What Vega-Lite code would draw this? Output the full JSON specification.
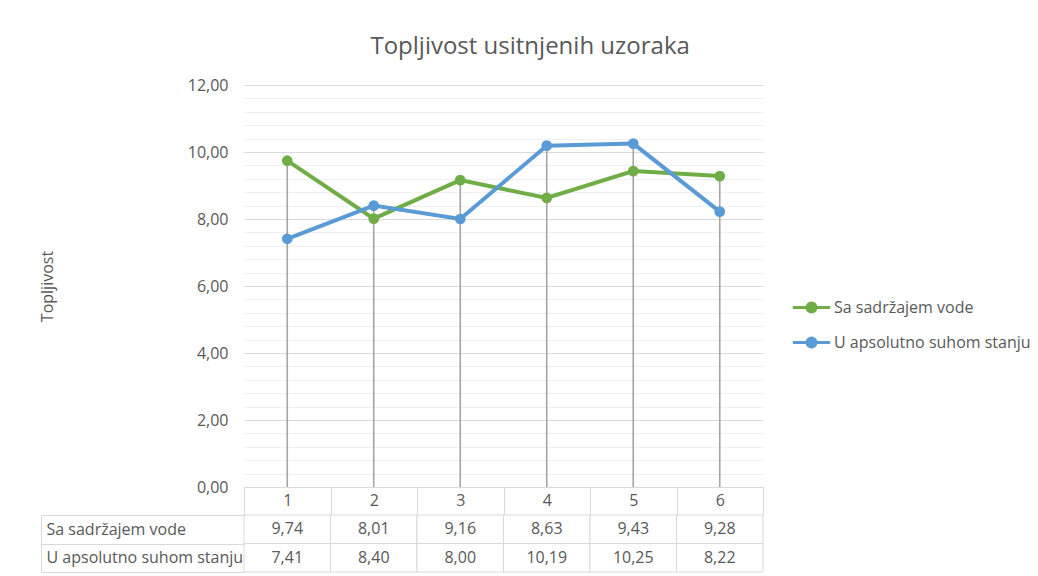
{
  "$schema": "https://vega.github.io/schema/vega-lite/v6.json",
  "padding": {"left": 39, "top": 35, "right": 5, "bottom": 0},
  "background": "white",
  "title": {
    "text": "Topljivost usitnjenih uzoraka",
    "fontSize": 24,
    "fontWeight": "normal",
    "color": "#595959",
    "font": "Open Sans",
    "anchor": "middle",
    "offset": 18,
    "dx": -5
  },
  "datasets": {
    "d": [
      {"x": 1, "series": "Sa sadržajem vode", "value": 9.74},
      {"x": 2, "series": "Sa sadržajem vode", "value": 8.01},
      {"x": 3, "series": "Sa sadržajem vode", "value": 9.16},
      {"x": 4, "series": "Sa sadržajem vode", "value": 8.63},
      {"x": 5, "series": "Sa sadržajem vode", "value": 9.43},
      {"x": 6, "series": "Sa sadržajem vode", "value": 9.28},
      {"x": 1, "series": "U apsolutno suhom stanju", "value": 7.41},
      {"x": 2, "series": "U apsolutno suhom stanju", "value": 8.40},
      {"x": 3, "series": "U apsolutno suhom stanju", "value": 8.00},
      {"x": 4, "series": "U apsolutno suhom stanju", "value": 10.19},
      {"x": 5, "series": "U apsolutno suhom stanju", "value": 10.25},
      {"x": 6, "series": "U apsolutno suhom stanju", "value": 8.22}
    ]
  },
  "bounds": "flush",
  "spacing": 28,
  "vconcat": [
    {
      "width": 519,
      "height": 402,
      "data": {"name": "d"},
      "encoding": {
        "x": {
          "field": "x",
          "type": "ordinal",
          "scale": {"type": "band", "paddingInner": 0, "paddingOuter": 0},
          "axis": {
            "title": null,
            "labelAngle": 0,
            "domain": true,
            "domainColor": "#d9d9d9",
            "ticks": true,
            "tickBand": "extent",
            "tickSize": 28,
            "tickColor": "#d9d9d9",
            "labelPadding": -23,
            "labelFontSize": 16,
            "labelColor": "#595959",
            "labelFont": "Open Sans",
            "grid": false
          }
        }
      },
      "layer": [
        {
          "mark": {"type": "rule", "color": "#a5a5a5", "strokeWidth": 1.6},
          "encoding": {
            "y": {
              "aggregate": "max",
              "field": "value",
              "type": "quantitative",
              "scale": {"domain": [0, 12], "nice": false},
              "axis": {
                "values": [0, 0.4, 0.8, 1.2, 1.6, 2, 2.4, 2.8, 3.2, 3.6, 4, 4.4, 4.8, 5.2, 5.6, 6, 6.4, 6.8, 7.2, 7.6, 8, 8.4, 8.8, 9.2, 9.6, 10, 10.4, 10.8, 11.2, 11.6, 12],
                "tickCount": 50,
                "format": ".2f",
                "labelExpr": "datum.value % 2 === 0 ? datum.label : ''",
                "labelOverlap": false,
                "grid": true,
                "gridColor": {"condition": {"test": "datum.value % 2 === 0", "value": "#d9d9d9"}, "value": "#f0f0f0"},
                "gridWidth": 1.2,
                "ticks": false,
                "domain": false,
                "labelPadding": 16,
                "labelFontSize": 16,
                "labelColor": "#595959",
                "labelFont": "Open Sans",
                "title": "Topljivost",
                "titleFont": "Open Sans",
                "titleFontSize": 16,
                "titleFontWeight": "normal",
                "titleColor": "#595959",
                "titlePadding": 132
              }
            },
            "y2": {"datum": 0}
          }
        },
        {
          "mark": {"type": "line", "strokeWidth": 4, "point": {"filled": true, "size": 115}},
          "encoding": {
            "y": {"field": "value", "type": "quantitative"},
            "color": {
              "field": "series",
              "type": "nominal",
              "scale": {
                "domain": ["Sa sadržajem vode", "U apsolutno suhom stanju"],
                "range": ["#70ad47", "#5b9bd5"]
              },
              "legend": {
                "title": null,
                "orient": "none",
                "legendX": 547,
                "legendY": 202,
                "symbolType": "M-1,0L1,0M-0.24,0A0.24,0.24 0 1,0 0.24,0A0.24,0.24 0 1,0 -0.24,0Z",
                "symbolSize": 1400,
                "symbolStrokeWidth": 3,
                "labelFontSize": 16,
                "labelFont": "Open Sans",
                "labelColor": "#595959",
                "labelOffset": 2,
                "labelLimit": 300,
                "rowPadding": 4,
                "padding": 0
              }
            }
          }
        }
      ]
    },
    {
      "width": 519,
      "height": 57,
      "data": {"name": "d"},
      "encoding": {
        "x": {
          "field": "x",
          "type": "ordinal",
          "scale": {"type": "band", "paddingInner": 0, "paddingOuter": 0},
          "axis": null
        },
        "y": {
          "field": "series",
          "type": "nominal",
          "scale": {"domain": ["Sa sadržajem vode", "U apsolutno suhom stanju"], "paddingInner": 0, "paddingOuter": 0},
          "axis": {
            "orient": "left",
            "offset": 203,
            "title": null,
            "domain": true,
            "domainColor": "#d9d9d9",
            "ticks": true,
            "tickBand": "extent",
            "tickSize": -203,
            "tickColor": "#d9d9d9",
            "labelAlign": "left",
            "labelPadding": 198,
            "labelFontSize": 16,
            "labelFont": "Open Sans",
            "labelColor": "#595959",
            "labelLimit": 300
          }
        }
      },
      "layer": [
        {
          "mark": {"type": "rect", "fill": "white", "stroke": "#d9d9d9", "strokeWidth": 1}
        },
        {
          "mark": {"type": "text", "fontSize": 16, "font": "Open Sans", "color": "#595959"},
          "encoding": {
            "text": {"field": "value", "type": "quantitative", "format": ".2f"}
          }
        }
      ]
    }
  ],
  "config": {
    "view": {"stroke": null},
    "locale": {"number": {"decimal": ",", "thousands": ".", "grouping": [3], "currency": ["", ""]}}
  }
}
